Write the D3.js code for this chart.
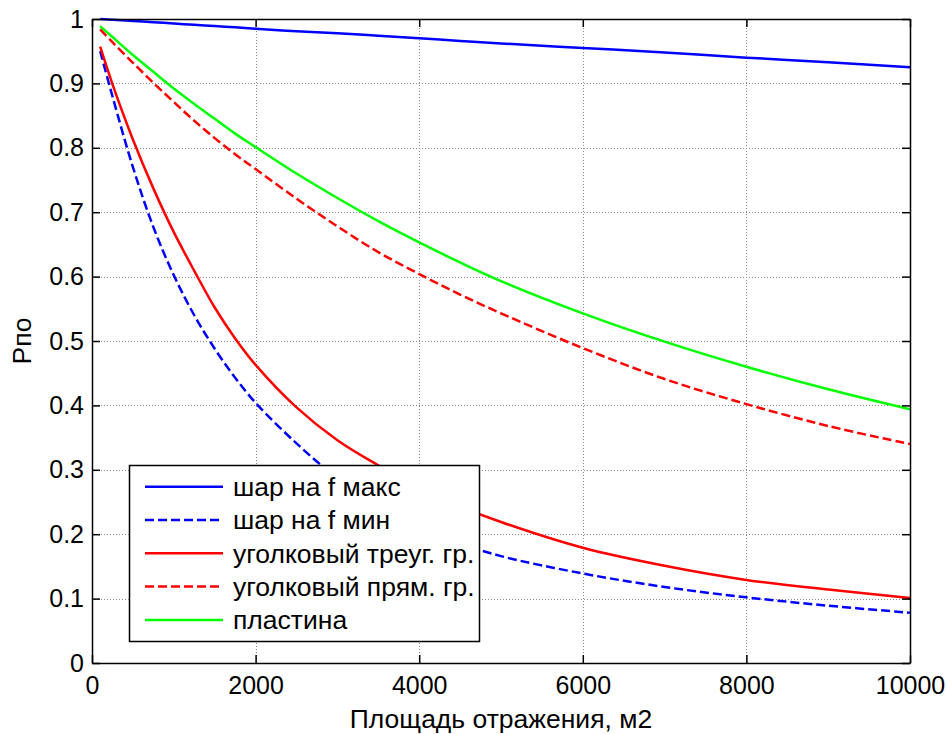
<!DOCTYPE html>
<html>
<head>
<meta charset="utf-8">
<script src="https://cdn.jsdelivr.net/npm/d3@7/dist/d3.min.js"></script>
<style>
  html, body { margin: 0; padding: 0; background: #fff; }
  svg { display: block; }
  text { font-family: "Liberation Sans", Arial, sans-serif; fill: #000; }
</style>
</head>
<body>
<svg id="chart" width="946" height="734"></svg>
<script>
// Reflecting area, m2
const area = [100, 250, 500, 750, 1000, 1250, 1500, 1750, 2000, 2500, 3000, 3500, 4000, 4500, 5000, 6000, 7000, 8000, 9000, 10000];

// Detection probability for each target type
const sphereFmax = [1.000, 0.999, 0.997, 0.995, 0.993, 0.991, 0.989, 0.987, 0.985, 0.981, 0.978, 0.974, 0.970, 0.966, 0.962, 0.955, 0.948, 0.940, 0.933, 0.925];
const sphereFmin = [0.950, 0.880, 0.770, 0.677, 0.602, 0.540, 0.488, 0.443, 0.404, 0.341, 0.287, 0.245, 0.212, 0.186, 0.166, 0.139, 0.118, 0.102, 0.089, 0.078];
const cornerTri  = [0.957, 0.899, 0.813, 0.737, 0.669, 0.609, 0.552, 0.504, 0.463, 0.397, 0.346, 0.307, 0.272, 0.243, 0.219, 0.179, 0.151, 0.129, 0.114, 0.101];
const cornerRect = [0.984, 0.964, 0.932, 0.901, 0.871, 0.842, 0.815, 0.790, 0.767, 0.721, 0.678, 0.638, 0.604, 0.572, 0.543, 0.489, 0.441, 0.402, 0.368, 0.340];
const plate      = [0.989, 0.972, 0.944, 0.918, 0.892, 0.868, 0.845, 0.822, 0.801, 0.760, 0.722, 0.686, 0.653, 0.622, 0.593, 0.543, 0.499, 0.460, 0.425, 0.394];

const seriesNames = ["шар на f макс", "шар на f мин", "уголковый треуг. гр.", "уголковый прям. гр.", "пластина"];
const seriesValues = [sphereFmax, sphereFmin, cornerTri, cornerRect, plate];
const seriesColors = ["#0000ff", "#0000ff", "#ff0000", "#ff0000", "#00ff00"];
const seriesDashed = [false, true, false, true, false];

const xTicks = [0, 2000, 4000, 6000, 8000, 10000];
const yTicks = [0, 0.1, 0.2, 0.3, 0.4, 0.5, 0.6, 0.7, 0.8, 0.9, 1];
const xLabel = "Площадь отражения, м2";
const yLabel = "Рпо";

const svg = d3.select("#chart");
const L = 92, R = 910, T = 19, B = 663;
const x = d3.scaleLinear().domain([0, 10000]).range([L, R]);
const y = d3.scaleLinear().domain([0, 1]).range([B, T]);

// dotted grid
const grid = svg.append("g").attr("stroke", "#8a8a8a").attr("stroke-width", 1).attr("stroke-dasharray", "1,2");
grid.selectAll("line.gx").data(xTicks.slice(1, -1)).join("line")
  .attr("x1", d => Math.round(x(d)) + 0.5).attr("x2", d => Math.round(x(d)) + 0.5)
  .attr("y1", T).attr("y2", B);
grid.selectAll("line.gy").data(yTicks.slice(1, -1)).join("line")
  .attr("y1", d => Math.round(y(d)) + 0.5).attr("y2", d => Math.round(y(d)) + 0.5)
  .attr("x1", L).attr("x2", R);

// curves
svg.append("clipPath").attr("id", "plotclip")
  .append("rect").attr("x", L).attr("y", T - 2).attr("width", R - L).attr("height", B - T + 2);
const line = d3.line().x((d, i) => x(area[i])).y(d => y(d)).curve(d3.curveCatmullRom.alpha(0.5));
const curves = svg.append("g").attr("clip-path", "url(#plotclip)");
seriesValues.forEach((vals, k) => {
  curves.append("path")
    .attr("d", line(vals))
    .attr("fill", "none")
    .attr("stroke", seriesColors[k])
    .attr("stroke-width", 2.5)
    .attr("stroke-dasharray", seriesDashed[k] ? "9,4" : null);
});

// axes: closed box with inward ticks on all four sides
const fmtY = d => String(+d.toFixed(1));
const axB = d3.axisBottom(x).tickValues(xTicks).tickSizeInner(-8).tickSizeOuter(0).tickPadding(13).tickFormat(d3.format("d"));
const axT = d3.axisTop(x).tickValues(xTicks).tickSizeInner(-8).tickSizeOuter(0).tickFormat("");
const axL = d3.axisLeft(y).tickValues(yTicks).tickSizeInner(-8).tickSizeOuter(0).tickPadding(8).tickFormat(fmtY);
const axR = d3.axisRight(y).tickValues(yTicks).tickSizeInner(-8).tickSizeOuter(0).tickFormat("");

function styleAxis(g) {
  g.select(".domain").attr("stroke", "#000").attr("stroke-width", 1.5);
  g.selectAll(".tick line").attr("stroke", "#000").attr("stroke-width", 1.5);
  g.selectAll(".tick text").attr("font-size", 25).attr("font-family", "Liberation Sans, Arial, sans-serif").attr("fill", "#000");
}
svg.append("g").attr("transform", `translate(0,${B})`).call(axB).call(styleAxis);
svg.append("g").attr("transform", `translate(0,${T})`).call(axT).call(styleAxis);
svg.append("g").attr("transform", `translate(${L},0)`).call(axL).call(styleAxis);
svg.append("g").attr("transform", `translate(${R},0)`).call(axR).call(styleAxis);

// axis titles
svg.append("text").attr("x", (L + R) / 2).attr("y", 728).attr("text-anchor", "middle")
  .attr("font-size", 26.5).text(xLabel);
svg.append("text").attr("transform", `translate(31,${(T + B) / 2}) rotate(-90)`).attr("text-anchor", "middle")
  .attr("font-size", 26.5).text(yLabel);

// legend
const lg = svg.append("g");
const lgX = 129.5, lgY = 465.5, lgW = 350, lgH = 176, rowH = 33.3, row0 = 486.7;
lg.append("rect").attr("x", lgX).attr("y", lgY).attr("width", lgW).attr("height", lgH)
  .attr("fill", "#fff").attr("stroke", "#000").attr("stroke-width", 1.5);
seriesNames.forEach((name, k) => {
  const cy = row0 + k * rowH;
  lg.append("line").attr("x1", 145).attr("x2", 223).attr("y1", cy).attr("y2", cy)
    .attr("stroke", seriesColors[k]).attr("stroke-width", 2.5)
    .attr("stroke-dasharray", seriesDashed[k] ? "9,4" : null);
  lg.append("text").attr("x", 233).attr("y", cy).attr("dy", "0.35em")
    .attr("font-size", 26.5).text(name);
});
</script>
</body>
</html>
